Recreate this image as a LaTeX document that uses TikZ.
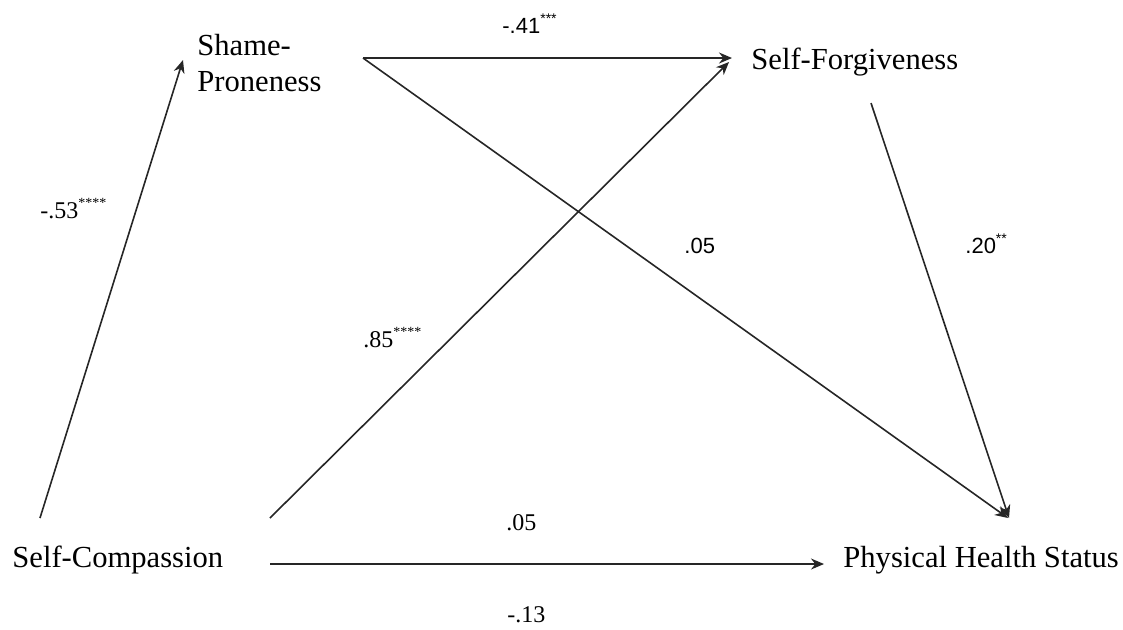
\documentclass[tikz,border=0pt]{standalone}
\usepackage{fontspec}
\setmainfont{Liberation Serif}
\newfontfamily\arialf{Liberation Sans}
\usetikzlibrary{arrows.meta}
\newcommand\mystars[1]{\raisebox{0.45em}{\fontsize{7}{8}\selectfont #1}}
\begin{document}
\begin{tikzpicture}[x=0.5pt,y=-0.5pt,
  var/.style={inner sep=0pt, font=\fontsize{15.3}{18}\selectfont, anchor=base west, align=left},
  labser/.style={inner sep=0pt, font=\fontsize{12}{14}\selectfont, anchor=base west},
  labsans/.style={inner sep=0pt, font=\arialf\fontsize{11}{13}\selectfont, anchor=base west},
  conn/.style={line width=0.8pt, draw=black!85, -{Stealth[length=6.5pt,width=5.5pt]}}]
\useasboundingbox (0,0) rectangle (1123,629);
% variables
\node[var] (sp) at (197,91) {Shame-\\Proneness};
\node[var] (sf) at (751,69) {Self-Forgiveness};
\node[var] (sc) at (12,567) {Self-Compassion};
\node[var] (ph) at (843,567) {Physical Health Status};
% connector end points
\coordinate (scA) at (40,518);
\coordinate (spA) at (183,60);
\coordinate (spB) at (363,58);
\coordinate (sfA) at (732,58);
\coordinate (phA) at (1008,518);
\coordinate (scB) at (270,518);
\coordinate (sfB) at (729,62);
\coordinate (sfC) at (871,103);
\coordinate (phB) at (1009,518);
\coordinate (scC) at (270,564);
\coordinate (phC) at (824,564);
% connectors
\draw[conn] (scA) -- (spA);
\draw[conn] (spB) -- (sfA);
\draw[conn] (spB) -- (phA);
\draw[conn] (scB) -- (sfB);
\draw[conn] (sfC) -- (phB);
\draw[conn] (scC) -- (phC);
% labels
\node[labsans] (l41) at (502,33) {-.41\mystars{***}};
\node[labser] (l53) at (40,218) {-.53\mystars{****}};
\node[labsans] (l05a) at (684,253) {.05};
\node[labsans] (l20) at (965,253) {.20\mystars{**}};
\node[labser] (l85) at (363,347) {.85\mystars{****}};
\node[labser] (l05b) at (506,530) {.05};
\node[labser] (l13) at (507,622) {-.13};
\end{tikzpicture}
\end{document}
